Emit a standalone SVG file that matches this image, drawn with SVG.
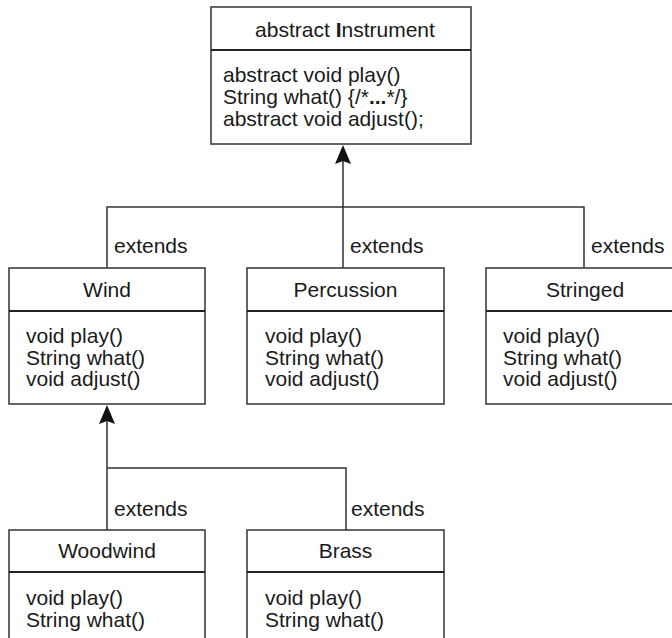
<svg xmlns="http://www.w3.org/2000/svg" width="672" height="638" viewBox="0 0 672 638">
<defs>
<style>
.box{fill:#fff;stroke:#333;stroke-width:1.5}
.div{stroke:#222;stroke-width:2}
.t{font-family:"Liberation Sans",Arial,sans-serif;font-size:21px;fill:#1a1a1a}
.c{text-anchor:middle}
.ln{fill:none;stroke:#333;stroke-width:1.5}
.ah{fill:#111}
</style>
</defs>
<rect width="672" height="638" fill="#fff"/>
<g id="connectors">
<path class="ln" d="M343,160 V268 M107,268 V207 H584 V268"/>
<path class="ah" d="M343,145 L335,164 L343,161 L351,164 Z"/>
<path class="ln" d="M107,420 V530 M107,468 H346 V530"/>
<path class="ah" d="M107,405 L99,424 L107,421 L115,424 Z"/>
<text class="t" x="114" y="253">extends</text>
<text class="t" x="350" y="253">extends</text>
<text class="t" x="591" y="253">extends</text>
<text class="t" x="114" y="516">extends</text>
<text class="t" x="351" y="516">extends</text>
</g>
<g id="instrument">
<rect class="box" x="211" y="7" width="260" height="137"/>
<line class="div" x1="211" y1="50" x2="471" y2="50"/>
<text class="t c" x="345" y="37">abstract <tspan font-weight="bold">I</tspan>nstrument</text>
<text class="t" x="223" y="82">abstract void play()</text>
<text class="t" x="223" y="104">String what() {/*<tspan font-weight="bold">...</tspan>*/}</text>
<text class="t" x="223" y="126">abstract void adjust();</text>
</g>
<g id="wind">
<rect class="box" x="9" y="268" width="196" height="136"/>
<line class="div" x1="9" y1="311" x2="205" y2="311"/>
<text class="t c" x="107" y="297">Wind</text>
<text class="t" x="26" y="343">void play()</text>
<text class="t" x="26" y="364.5">String what()</text>
<text class="t" x="26" y="386">void adjust()</text>
</g>
<g id="percussion">
<rect class="box" x="247" y="268" width="197" height="136"/>
<line class="div" x1="247" y1="311" x2="444" y2="311"/>
<text class="t c" x="345.5" y="297">Percussion</text>
<text class="t" x="265" y="343">void play()</text>
<text class="t" x="265" y="364.5">String what()</text>
<text class="t" x="265" y="386">void adjust()</text>
</g>
<g id="stringed">
<rect class="box" x="486" y="268" width="197" height="136"/>
<line class="div" x1="486" y1="311" x2="683" y2="311"/>
<text class="t c" x="585" y="297">Stringed</text>
<text class="t" x="503" y="343">void play()</text>
<text class="t" x="503" y="364.5">String what()</text>
<text class="t" x="503" y="386">void adjust()</text>
</g>
<g id="woodwind">
<rect class="box" x="9" y="530" width="196" height="136"/>
<line class="div" x1="9" y1="572" x2="205" y2="572"/>
<text class="t c" x="107" y="558">Woodwind</text>
<text class="t" x="26" y="605">void play()</text>
<text class="t" x="26" y="626.5">String what()</text>
</g>
<g id="brass">
<rect class="box" x="247" y="530" width="197" height="136"/>
<line class="div" x1="247" y1="572" x2="444" y2="572"/>
<text class="t c" x="345.5" y="558">Brass</text>
<text class="t" x="265" y="605">void play()</text>
<text class="t" x="265" y="626.5">String what()</text>
</g>
</svg>
